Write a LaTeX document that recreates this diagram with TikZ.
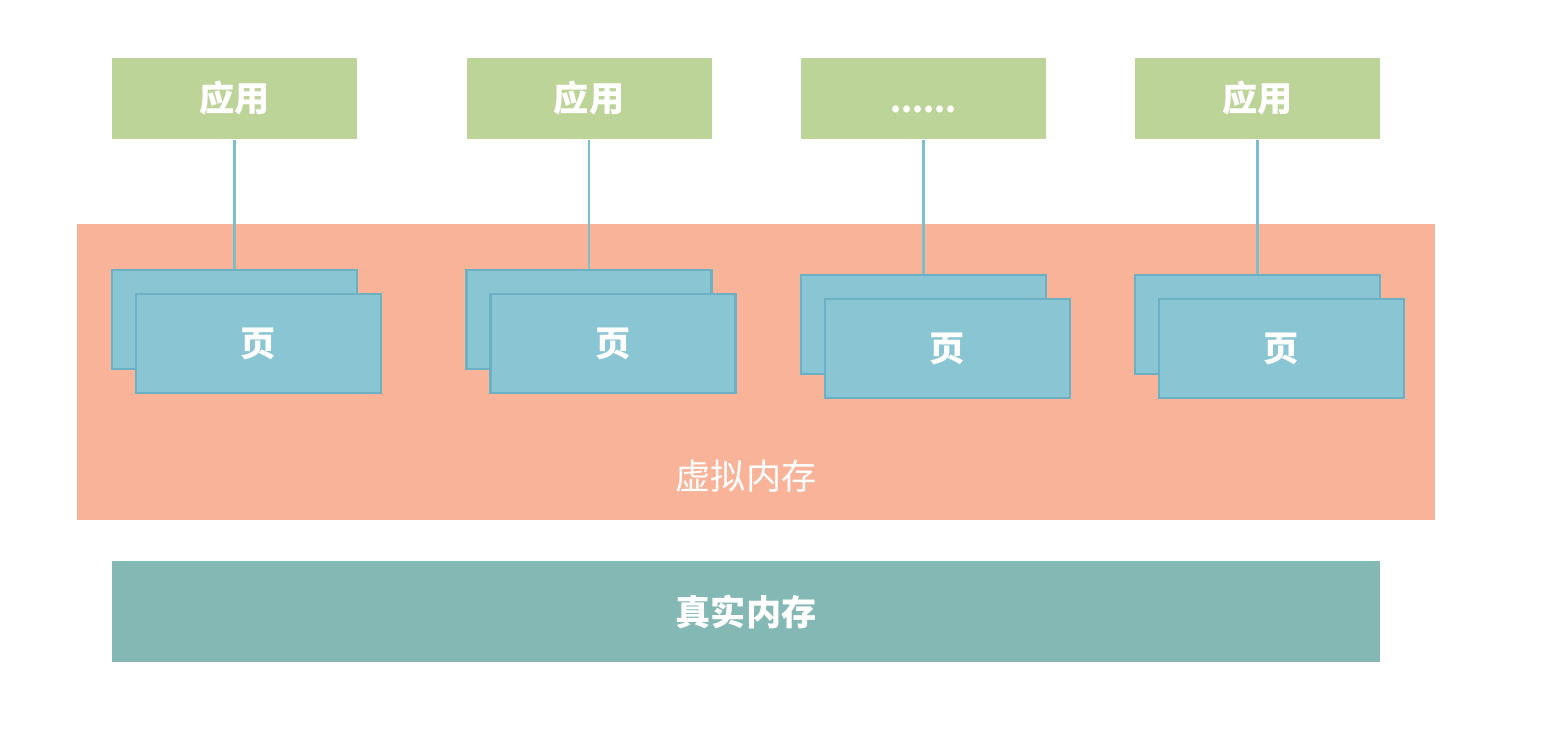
\documentclass[tikz,border=0pt]{standalone}
\usepackage{xcolor}
\usepackage{fontspec}
\setmainfont{Noto Sans CJK SC}
\usepackage{tikz}
\usetikzlibrary{positioning}

\definecolor{appgreen}{HTML}{BDD498}
\definecolor{vmemred}{HTML}{F9B399}
\definecolor{pageblue}{HTML}{8AC5D3}
\definecolor{pageedge}{HTML}{6BB0C3}
\definecolor{linkblue}{HTML}{7ABFC9}
\definecolor{realteal}{HTML}{84B8B4}

\begin{document}
\begin{tikzpicture}[
        app/.style={rectangle, fill=appgreen, text=white,
            font=\fontsize{10}{12}\selectfont\bfseries,
            minimum width=2.45cm, minimum height=0.81cm, inner sep=0pt},
        page/.style={rectangle, draw=pageedge, line width=0.6pt, fill=pageblue,
            text=white, font=\fontsize{10}{12}\selectfont\bfseries,
            minimum width=2.45cm, minimum height=0.99cm, inner sep=0pt},
        memory/.style={rectangle, inner sep=0pt, text=white,
            font=\fontsize{10}{12}\selectfont},
        link/.style={draw=linkblue, line width=0.6pt}
    ]
        \useasboundingbox (0,0) rectangle (15.44,-7.30);

        \node[memory, fill=vmemred, minimum width=13.58cm, minimum height=2.96cm]
            (vmem) at (7.56, -3.72) {};
        \node[memory] (vmemlabel) at (7.46, -4.76) {虚拟内存};

        \node[memory, fill=realteal, font=\fontsize{10}{12}\selectfont\bfseries,
              minimum width=12.68cm, minimum height=1.01cm]
            (real) at (7.46, -6.115) {真实内存};

        \node[app] (app1) at (2.345,  -0.985) {应用};
        \node[app] (app2) at (5.89,   -0.985) {应用};
        \node[app] (app3) at (9.235,  -0.985) {\raisebox{-1.5ex}{\fontsize{9}{11}\selectfont ......}};
        \node[app] (app4) at (12.575, -0.985) {应用};

        \node[page] (back1) at (2.345,  -3.195) {};
        \node[page] (back2) at (5.89,   -3.195) {};
        \node[page] (back3) at (9.235,  -3.245) {};
        \node[page] (back4) at (12.575, -3.245) {};

        \node[page] (page1) at (2.585,  -3.435) {页};
        \node[page] (page2) at (6.13,   -3.435) {页};
        \node[page] (page3) at (9.475,  -3.485) {页};
        \node[page] (page4) at (12.815, -3.485) {页};

        \draw[link] (app1) -- (back1);
        \draw[link] (app2) -- (back2);
        \draw[link] (app3) -- (back3);
        \draw[link] (app4) -- (back4);
    \end{tikzpicture}
\end{document}
